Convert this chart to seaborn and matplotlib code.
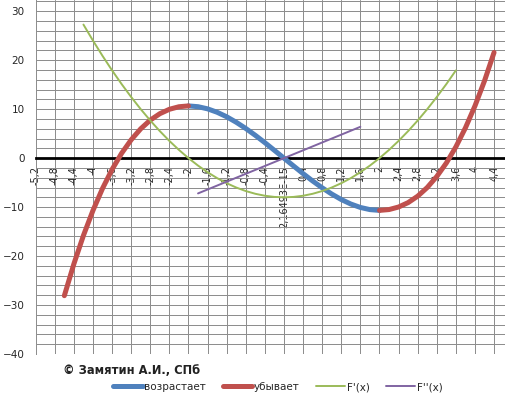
import numpy as np
import pandas as pd
import matplotlib
matplotlib.use("Agg")
import matplotlib.pyplot as plt
from matplotlib.ticker import MultipleLocator
from matplotlib.lines import Line2D
import seaborn as sns

# category axis: step 0.2, every second category is labelled
tick_pos = np.round(np.arange(-5.2, 4.41, 0.4), 1)
tick_labels = ['-5,2', '-4,8', '-4,4', '-4', '-3,6', '-3,2', '-2,8', '-2,4', '-2',
               '-1,6', '-1,2', '-0,8', '-0,4', '2,16493E-15', '0,4', '0,8', '1,2',
               '1,6', '2', '2,4', '2,8', '3,2', '3,6', '4', '4,4']

# F(x) where it "increases" (blue)
blue_x = np.round(np.arange(-2.0, 2.01, 0.2), 1)
blue_y = [10.67, 10.51, 10.07, 9.37, 8.45, 7.33, 6.06, 4.66, 3.16, 1.59, 0.0,
          -1.59, -3.16, -4.66, -6.06, -7.33, -8.45, -9.37, -10.07, -10.51, -10.67]

# F(x) where it "decreases" (red), two pieces
red_left_x = np.round(np.arange(-4.6, -1.99, 0.2), 1)
red_left_y = [-28.09, -21.59, -15.79, -10.67, -6.18, -2.30, 1.00, 3.75, 6.00,
              7.77, 9.08, 9.98, 10.50, 10.67]
red_right_x = np.round(np.arange(2.0, 4.41, 0.2), 1)
red_right_y = [-10.67, -10.50, -9.98, -9.08, -7.77, -6.00, -3.75, -1.00, 2.30,
               6.18, 10.67, 15.79, 21.59]

# F'(x)
d1_x = np.round(np.arange(-4.2, 3.61, 0.2), 1)
d1_y = [27.28, 24.00, 20.88, 17.92, 15.12, 12.48, 10.00, 7.68, 5.52, 3.52, 1.68,
        0.00, -1.52, -2.88, -4.08, -5.12, -6.00, -6.72, -7.28, -7.68, -7.92, -8.00,
        -7.92, -7.68, -7.28, -6.72, -6.00, -5.12, -4.08, -2.88, -1.52, 0.00, 1.68,
        3.52, 5.52, 7.68, 10.00, 12.48, 15.12, 17.92]

# F''(x)
d2_x = np.round(np.arange(-1.8, 1.61, 0.2), 1)
d2_y = [-7.2, -6.4, -5.6, -4.8, -4.0, -3.2, -2.4, -1.6, -0.8, 0.0, 0.8, 1.6, 2.4,
        3.2, 4.0, 4.8, 5.6, 6.4]

names = ['возрастает', 'убывает', "F'(x)", "F''(x)"]
colors = {'возрастает': '#4F81BD', 'убывает': '#C0504D', "F'(x)": '#9BBB59', "F''(x)": '#8064A2'}
widths = {'возрастает': 3.6, 'убывает': 3.6, "F'(x)": 1.4, "F''(x)": 1.4}

parts = [
    ('возрастает', 'b', blue_x, blue_y),
    ('убывает', 'r1', red_left_x, red_left_y),
    ('убывает', 'r2', red_right_x, red_right_y),
    ("F'(x)", 'g', d1_x, d1_y),
    ("F''(x)", 'p', d2_x, d2_y),
]
df = pd.concat([pd.DataFrame({'x': xs, 'y': ys, 'series': s, 'part': p})
                for s, p, xs, ys in parts], ignore_index=True)

sns.set_style("white")
plt.rcParams['font.family'] = ['DejaVu Sans']

fig = plt.figure(figsize=(5.06, 3.99), dpi=100)
ax = fig.add_axes([35.7 / 506, 1 - 354 / 399, 1 - 35.7 / 506, 354 / 399])

sns.lineplot(data=df, x='x', y='y', hue='series', size='series', units='part',
             estimator=None, palette=colors, sizes=widths, sort=False,
             legend=False, ax=ax, zorder=3)

grid_col = '#8e8e8e'
for s in ['top', 'right']:
    ax.spines[s].set_visible(False)
ax.spines['left'].set_color(grid_col)
ax.spines['left'].set_linewidth(0.72)
ax.spines['bottom'].set_position(('data', 0))
ax.spines['bottom'].set_color('black')
ax.spines['bottom'].set_linewidth(2)
ax.spines['bottom'].set_zorder(2.5)

ax.set_axisbelow(True)
ax.set_xlim(-5.2, 4.65)
ax.set_ylim(-40, 32.3)
ax.set_xticks(tick_pos)
ax.set_xticklabels(tick_labels, rotation=90, va='top', ha='center')
ax.yaxis.set_major_locator(MultipleLocator(10))
ax.yaxis.set_minor_locator(MultipleLocator(2))
ax.grid(axis='x', which='major', color=grid_col, lw=0.72)
ax.grid(axis='y', which='both', color=grid_col, lw=0.72)

ax.tick_params(axis='x', direction='out', length=4, width=1.5, color='black',
               labelsize=7, pad=1.5)
ax.tick_params(axis='y', which='major', direction='out', length=4, width=0.8,
               color='#555555', labelsize=7.5, pad=4)
ax.tick_params(axis='y', which='minor', length=0)
ax.set_xlabel('')
ax.set_ylabel('')

fig.text(63 / 506, 1 - 371 / 399, '© Замятин А.И., СПб', fontsize=8.3,
         fontweight='bold', color='#222222', va='center')

handles = [Line2D([], [], color=colors[n], lw=widths[n]) for n in names]
fig.legend(handles, names, loc='center', bbox_to_anchor=(278 / 506, 1 - 387 / 399),
           ncol=4, frameon=False, fontsize=7.5, handlelength=2.8, handletextpad=0.15,
           columnspacing=1.6)

fig.savefig('out.png', dpi=100)
